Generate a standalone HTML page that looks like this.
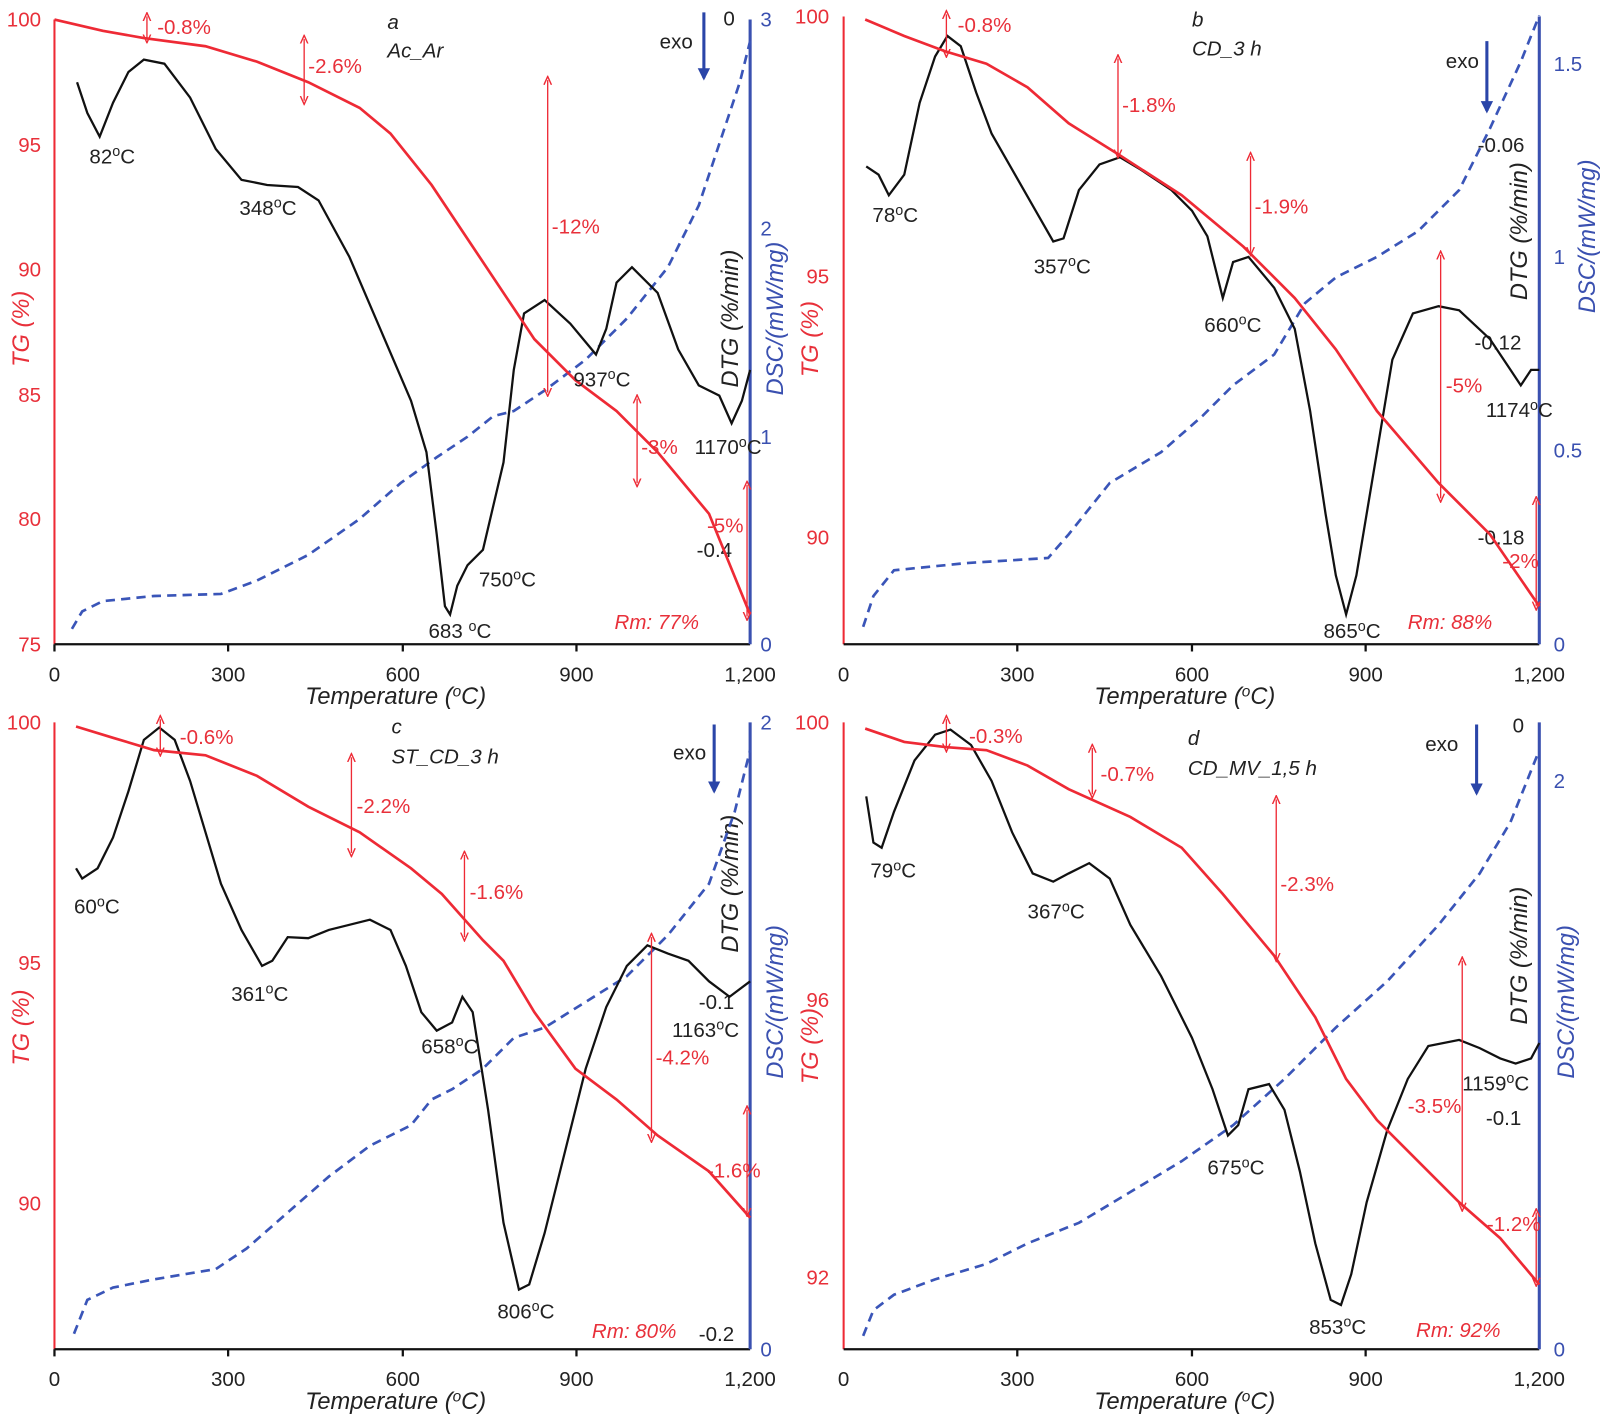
<!DOCTYPE html>
<html><head><meta charset="utf-8"><style>
html,body{margin:0;padding:0;background:#fff;}
svg{display:block;}
text{font-family:"Liberation Sans",Arial,sans-serif;font-size:20px;}
.r{fill:#e8303a;} .k{fill:#222;} .b{fill:#3a50b0;}
.it{font-style:italic;}
.tg{fill:none;stroke:#ee2a35;stroke-width:2.6;}
.dtg{fill:none;stroke:#111;stroke-width:2.2;}
.dsc{fill:none;stroke:#3a55b8;stroke-width:2.6;stroke-dasharray:9 6;}
.ar{stroke:#ee2a35;stroke-width:1.3;marker-start:url(#ah);marker-end:url(#ah);}
.ax{stroke:#111;stroke-width:2.2;}
.axr{stroke:#ee2a35;stroke-width:2;}
.axb{stroke:#3a50b0;stroke-width:3;}
.ex{stroke:#2a45a8;stroke-width:3;marker-end:url(#bh);}
.tt{font-size:23px;}
</style></head><body>
<svg width="1603" height="1416" viewBox="0 0 1560 1378" preserveAspectRatio="none" xmlns="http://www.w3.org/2000/svg">
<defs>
<marker id="ah" viewBox="0 0 10 10" refX="5" refY="5" markerWidth="7" markerHeight="7" orient="auto-start-reverse"><path d="M0,1 L9,5 L0,9" fill="none" stroke="#ee2a35" stroke-width="1.5"/></marker>
<marker id="bh" viewBox="0 0 10 10" refX="8" refY="5" markerWidth="4" markerHeight="4" orient="auto"><path d="M0,0 L10,5 L0,10 z" fill="#2a45a8"/></marker>
</defs>

<!-- ===== Panel a ===== -->
<line class="axr" x1="53" y1="19" x2="53" y2="627"/>
<line class="ax" x1="53" y1="627" x2="730" y2="627"/>
<line class="axb" x1="730" y1="19" x2="730" y2="627"/>
<g class="ax"><line x1="53" y1="627" x2="53" y2="634"/><line x1="222" y1="627" x2="222" y2="634"/><line x1="392" y1="627" x2="392" y2="634"/><line x1="561" y1="627" x2="561" y2="634"/></g>
<g class="r" text-anchor="end"><text x="40" y="26">100</text><text x="40" y="148">95</text><text x="40" y="269">90</text><text x="40" y="391">85</text><text x="40" y="512">80</text><text x="40" y="634">75</text></g>
<g class="b"><text x="740" y="26">3</text><text x="740" y="229">2</text><text x="740" y="432">1</text><text x="740" y="634">0</text></g>
<g class="k" text-anchor="middle"><text x="53" y="663">0</text><text x="222" y="663">300</text><text x="392" y="663">600</text><text x="561" y="663">900</text><text x="730" y="663">1,200</text></g>
<text class="k it tt" x="385" y="685" text-anchor="middle">Temperature (<tspan font-size="15" dy="-7">o</tspan><tspan dy="7">C)</tspan></text>
<text class="r it tt" transform="translate(28,320) rotate(-90)" text-anchor="middle">TG (%)</text>
<text class="k it tt" transform="translate(718,310) rotate(-90)" text-anchor="middle">DTG (%/min)</text>
<text class="b it tt" transform="translate(762,310) rotate(-90)" text-anchor="middle">DSC/(mW/mg)</text>
<text class="k" x="704" y="25">0</text><text class="k" x="678" y="542">-0.4</text>
<polyline class="dsc" points="70,612 80,595 100,585 150,580 215,578 250,565 300,540 350,505 390,470 425,445 455,425 480,405 500,400 530,380 570,350 610,310 650,260 680,200 700,140 720,80 730,40"/>
<polyline class="dtg" points="75,80 85,110 97,133 110,100 125,70 140,58 160,62 185,95 210,145 235,175 260,180 290,182 310,195 340,250 370,320 400,390 415,440 425,520 433,590 438,598 445,570 455,550 470,535 490,450 500,360 510,305 530,292 555,315 580,345 590,320 600,275 615,260 640,285 660,340 680,375 690,380 700,385 712,412 722,390 730,360"/>
<polyline class="tg" points="53,19 100,30 140,37 200,45 250,60 300,80 350,105 380,130 420,180 460,240 500,300 520,330 560,370 600,400 640,440 690,500 730,598"/>
<g class="k"><text x="87" y="159">82<tspan font-size="14" dy="-7">o</tspan><tspan dy="7">C</tspan></text><text x="233" y="209">348<tspan font-size="14" dy="-7">o</tspan><tspan dy="7">C</tspan></text><text x="417" y="621">683 <tspan font-size="14" dy="-7">o</tspan><tspan dy="7">C</tspan></text><text x="466" y="571">750<tspan font-size="14" dy="-7">o</tspan><tspan dy="7">C</tspan></text><text x="558" y="376">937<tspan font-size="14" dy="-7">o</tspan><tspan dy="7">C</tspan></text><text x="676" y="442">1170<tspan font-size="14" dy="-7">o</tspan><tspan dy="7">C</tspan></text></g>
<line class="ar" x1="143" y1="16" x2="143" y2="38"/><line class="ar" x1="296" y1="38" x2="296" y2="98"/><line class="ar" x1="533" y1="78" x2="533" y2="382"/><line class="ar" x1="620" y1="388" x2="620" y2="470"/><line class="ar" x1="727" y1="472" x2="727" y2="600"/>
<g class="r"><text x="153" y="33">-0.8%</text><text x="300" y="71">-2.6%</text><text x="537" y="227">-12%</text><text x="624" y="442">-3%</text><text x="688" y="518">-5%</text><text class="it" x="598" y="612">Rm: 77%</text></g>
<text class="k it" x="377" y="28">a</text><text class="k it" x="377" y="56">Ac_Ar</text>
<text class="k" x="642" y="47">exo</text><line class="ex" x1="685" y1="12" x2="685" y2="76"/>

<!-- ===== Panel b ===== -->
<line class="axr" x1="821" y1="16" x2="821" y2="627"/>
<line class="ax" x1="821" y1="627" x2="1498" y2="627"/>
<line class="axb" x1="1498" y1="16" x2="1498" y2="627"/>
<g class="ax"><line x1="990" y1="627" x2="990" y2="634"/><line x1="1160" y1="627" x2="1160" y2="634"/><line x1="1329" y1="627" x2="1329" y2="634"/></g>
<g class="r" text-anchor="end"><text x="807" y="23">100</text><text x="807" y="276">95</text><text x="807" y="530">90</text></g>
<g class="b"><text x="1512" y="69">1.5</text><text x="1512" y="257">1</text><text x="1512" y="445">0.5</text><text x="1512" y="634">0</text></g>
<g class="k" text-anchor="middle"><text x="821" y="663">0</text><text x="990" y="663">300</text><text x="1160" y="663">600</text><text x="1329" y="663">900</text><text x="1498" y="663">1,200</text></g>
<text class="k it tt" x="1153" y="685" text-anchor="middle">Temperature (<tspan font-size="15" dy="-7">o</tspan><tspan dy="7">C)</tspan></text>
<text class="r it tt" transform="translate(796,330) rotate(-90)" text-anchor="middle">TG (%)</text>
<text class="k it tt" transform="translate(1486,225) rotate(-90)" text-anchor="middle">DTG (%/min)</text>
<text class="b it tt" transform="translate(1552,230) rotate(-90)" text-anchor="middle">DSC/(mW/mg)</text>
<g class="k"><text x="1438" y="148">-0.06</text><text x="1435" y="340">-0.12</text><text x="1438" y="530">-0.18</text></g>
<polyline class="dsc" points="840,610 850,580 870,555 940,548 1020,543 1040,520 1080,470 1130,440 1170,405 1200,375 1240,345 1270,295 1300,270 1340,250 1380,225 1420,185 1450,125 1480,60 1498,15"/>
<polyline class="dtg" points="843,162 855,170 865,190 880,170 895,100 910,55 922,35 935,45 950,90 965,130 985,165 1005,200 1025,235 1035,232 1050,185 1070,160 1090,153 1110,165 1140,185 1160,205 1175,230 1190,290 1200,255 1215,250 1240,280 1260,320 1275,400 1290,500 1300,560 1310,598 1320,560 1340,440 1355,350 1375,305 1400,298 1420,302 1450,330 1470,360 1480,375 1490,360 1498,360"/>
<polyline class="tg" points="842,19 880,35 920,50 960,62 1000,85 1040,120 1088,150 1150,190 1210,240 1260,290 1300,340 1340,400 1400,470 1450,520 1498,590"/>
<g class="k"><text x="849" y="216">78<tspan font-size="14" dy="-7">o</tspan><tspan dy="7">C</tspan></text><text x="1006" y="266">357<tspan font-size="14" dy="-7">o</tspan><tspan dy="7">C</tspan></text><text x="1172" y="323">660<tspan font-size="14" dy="-7">o</tspan><tspan dy="7">C</tspan></text><text x="1288" y="621">865<tspan font-size="14" dy="-7">o</tspan><tspan dy="7">C</tspan></text><text x="1446" y="406">1174<tspan font-size="14" dy="-7">o</tspan><tspan dy="7">C</tspan></text></g>
<line class="ar" x1="921" y1="14" x2="921" y2="52"/><line class="ar" x1="1088" y1="57" x2="1088" y2="150"/><line class="ar" x1="1217" y1="152" x2="1217" y2="245"/><line class="ar" x1="1402" y1="248" x2="1402" y2="485"/><line class="ar" x1="1495" y1="487" x2="1495" y2="590"/>
<g class="r"><text x="932" y="31">-0.8%</text><text x="1092" y="109">-1.8%</text><text x="1221" y="208">-1.9%</text><text x="1407" y="382">-5%</text><text x="1462" y="553">-2%</text><text class="it" x="1370" y="612">Rm: 88%</text></g>
<text class="k it" x="1160" y="26">b</text><text class="k it" x="1160" y="54">CD_3 h</text>
<text class="k" x="1407" y="66">exo</text><line class="ex" x1="1447" y1="40" x2="1447" y2="108"/>

<!-- ===== Panel c ===== -->
<line class="axr" x1="53" y1="703" x2="53" y2="1313"/>
<line class="ax" x1="53" y1="1313" x2="730" y2="1313"/>
<line class="axb" x1="730" y1="703" x2="730" y2="1313"/>
<g class="ax"><line x1="53" y1="1313" x2="53" y2="1320"/><line x1="222" y1="1313" x2="222" y2="1320"/><line x1="392" y1="1313" x2="392" y2="1320"/><line x1="561" y1="1313" x2="561" y2="1320"/></g>
<g class="r" text-anchor="end"><text x="40" y="710">100</text><text x="40" y="944">95</text><text x="40" y="1178">90</text></g>
<g class="b"><text x="740" y="710">2</text><text x="740" y="1320">0</text></g>
<g class="k" text-anchor="middle"><text x="53" y="1349">0</text><text x="222" y="1349">300</text><text x="392" y="1349">600</text><text x="561" y="1349">900</text><text x="730" y="1349">1,200</text></g>
<text class="k it tt" x="385" y="1371" text-anchor="middle">Temperature (<tspan font-size="15" dy="-7">o</tspan><tspan dy="7">C)</tspan></text>
<text class="r it tt" transform="translate(28,1000) rotate(-90)" text-anchor="middle">TG (%)</text>
<text class="k it tt" transform="translate(718,860) rotate(-90)" text-anchor="middle">DTG (%/min)</text>
<text class="b it tt" transform="translate(762,975) rotate(-90)" text-anchor="middle">DSC/(mW/mg)</text>
<g class="k"><text x="680" y="982">-0.1</text><text x="680" y="1305">-0.2</text></g>
<polyline class="dsc" points="72,1298 85,1265 110,1253 150,1245 210,1235 240,1215 280,1180 320,1145 360,1115 400,1095 420,1070 440,1060 470,1040 500,1010 530,1000 570,975 610,950 650,910 690,860 715,790 730,730"/>
<polyline class="dtg" points="74,845 80,855 95,845 110,815 125,770 140,720 155,708 170,720 185,760 200,810 215,860 235,905 255,940 265,935 280,912 300,913 320,905 340,900 360,895 380,905 395,940 410,985 425,1003 440,995 450,970 460,985 475,1080 490,1190 505,1255 515,1250 530,1200 550,1120 570,1040 590,980 610,940 630,920 650,928 670,935 690,955 710,970 730,955"/>
<polyline class="tg" points="74,707 110,718 150,730 200,735 250,755 300,785 350,810 400,845 430,870 470,915 490,935 520,985 560,1040 600,1070 640,1105 690,1140 730,1185"/>
<g class="k"><text x="72" y="889">60<tspan font-size="14" dy="-7">o</tspan><tspan dy="7">C</tspan></text><text x="225" y="974">361<tspan font-size="14" dy="-7">o</tspan><tspan dy="7">C</tspan></text><text x="410" y="1025">658<tspan font-size="14" dy="-7">o</tspan><tspan dy="7">C</tspan></text><text x="484" y="1283">806<tspan font-size="14" dy="-7">o</tspan><tspan dy="7">C</tspan></text><text x="654" y="1009">1163<tspan font-size="14" dy="-7">o</tspan><tspan dy="7">C</tspan></text></g>
<line class="ar" x1="156" y1="700" x2="156" y2="732"/><line class="ar" x1="342" y1="737" x2="342" y2="830"/><line class="ar" x1="452" y1="832" x2="452" y2="912"/><line class="ar" x1="634" y1="912" x2="634" y2="1108"/><line class="ar" x1="727" y1="1080" x2="727" y2="1180"/>
<g class="r"><text x="175" y="724">-0.6%</text><text x="347" y="791">-2.2%</text><text x="457" y="875">-1.6%</text><text x="638" y="1036">-4.2%</text><text x="688" y="1146">-1.6%</text><text class="it" x="576" y="1302">Rm: 80%</text></g>
<text class="k it" x="381" y="714">c</text><text class="k it" x="381" y="743">ST_CD_3 h</text>
<text class="k" x="655" y="739">exo</text><line class="ex" x1="695" y1="705" x2="695" y2="770"/>

<!-- ===== Panel d ===== -->
<line class="axr" x1="821" y1="703" x2="821" y2="1313"/>
<line class="ax" x1="821" y1="1313" x2="1498" y2="1313"/>
<line class="axb" x1="1498" y1="703" x2="1498" y2="1313"/>
<g class="ax"><line x1="990" y1="1313" x2="990" y2="1320"/><line x1="1160" y1="1313" x2="1160" y2="1320"/><line x1="1329" y1="1313" x2="1329" y2="1320"/></g>
<g class="r" text-anchor="end"><text x="807" y="710">100</text><text x="807" y="980">96</text><text x="807" y="1250">92</text></g>
<g class="b"><text x="1512" y="767">2</text><text x="1512" y="1320">0</text></g>
<g class="k" text-anchor="middle"><text x="821" y="1349">0</text><text x="990" y="1349">300</text><text x="1160" y="1349">600</text><text x="1329" y="1349">900</text><text x="1498" y="1349">1,200</text></g>
<text class="k it tt" x="1153" y="1371" text-anchor="middle">Temperature (<tspan font-size="15" dy="-7">o</tspan><tspan dy="7">C)</tspan></text>
<text class="r it tt" transform="translate(796,1018) rotate(-90)" text-anchor="middle">TG (%)</text>
<text class="k it tt" transform="translate(1486,930) rotate(-90)" text-anchor="middle">DTG (%/min)</text>
<text class="b it tt" transform="translate(1532,975) rotate(-90)" text-anchor="middle">DSC/(mW/mg)</text>
<g class="k"><text x="1472" y="713">0</text><text x="1446" y="1095">-0.1</text></g>
<polyline class="dsc" points="840,1300 850,1275 870,1260 910,1245 960,1230 1000,1210 1050,1190 1100,1160 1150,1130 1200,1095 1250,1050 1300,1000 1350,955 1400,900 1440,850 1470,800 1498,730"/>
<polyline class="dtg" points="843,775 850,820 858,825 870,790 890,740 910,715 925,710 945,725 965,760 985,810 1005,850 1025,858 1040,850 1060,840 1080,855 1100,900 1130,950 1160,1010 1180,1060 1195,1105 1205,1095 1215,1060 1235,1055 1250,1080 1265,1140 1280,1210 1295,1265 1305,1270 1315,1240 1330,1170 1350,1100 1370,1050 1390,1018 1420,1012 1440,1020 1460,1030 1475,1035 1490,1030 1498,1015"/>
<polyline class="tg" points="842,709 880,722 920,727 960,730 1000,745 1040,768 1100,795 1150,825 1190,870 1240,930 1280,990 1310,1050 1340,1090 1380,1130 1420,1170 1460,1205 1498,1250"/>
<g class="k"><text x="847" y="854">79<tspan font-size="14" dy="-7">o</tspan><tspan dy="7">C</tspan></text><text x="1000" y="894">367<tspan font-size="14" dy="-7">o</tspan><tspan dy="7">C</tspan></text><text x="1175" y="1143">675<tspan font-size="14" dy="-7">o</tspan><tspan dy="7">C</tspan></text><text x="1274" y="1298">853<tspan font-size="14" dy="-7">o</tspan><tspan dy="7">C</tspan></text><text x="1423" y="1061">1159<tspan font-size="14" dy="-7">o</tspan><tspan dy="7">C</tspan></text></g>
<line class="ar" x1="921" y1="700" x2="921" y2="728"/><line class="ar" x1="1063" y1="728" x2="1063" y2="773"/><line class="ar" x1="1242" y1="778" x2="1242" y2="932"/><line class="ar" x1="1423" y1="935" x2="1423" y2="1175"/><line class="ar" x1="1495" y1="1180" x2="1495" y2="1248"/>
<g class="r"><text x="943" y="723">-0.3%</text><text x="1071" y="760">-0.7%</text><text x="1246" y="867">-2.3%</text><text x="1370" y="1083">-3.5%</text><text x="1447" y="1198">-1.2%</text><text class="it" x="1378" y="1301">Rm: 92%</text></g>
<text class="k it" x="1156" y="725">d</text><text class="k it" x="1156" y="754">CD_MV_1,5 h</text>
<text class="k" x="1387" y="731">exo</text><line class="ex" x1="1437" y1="705" x2="1437" y2="772"/>
</svg>
</body></html>
